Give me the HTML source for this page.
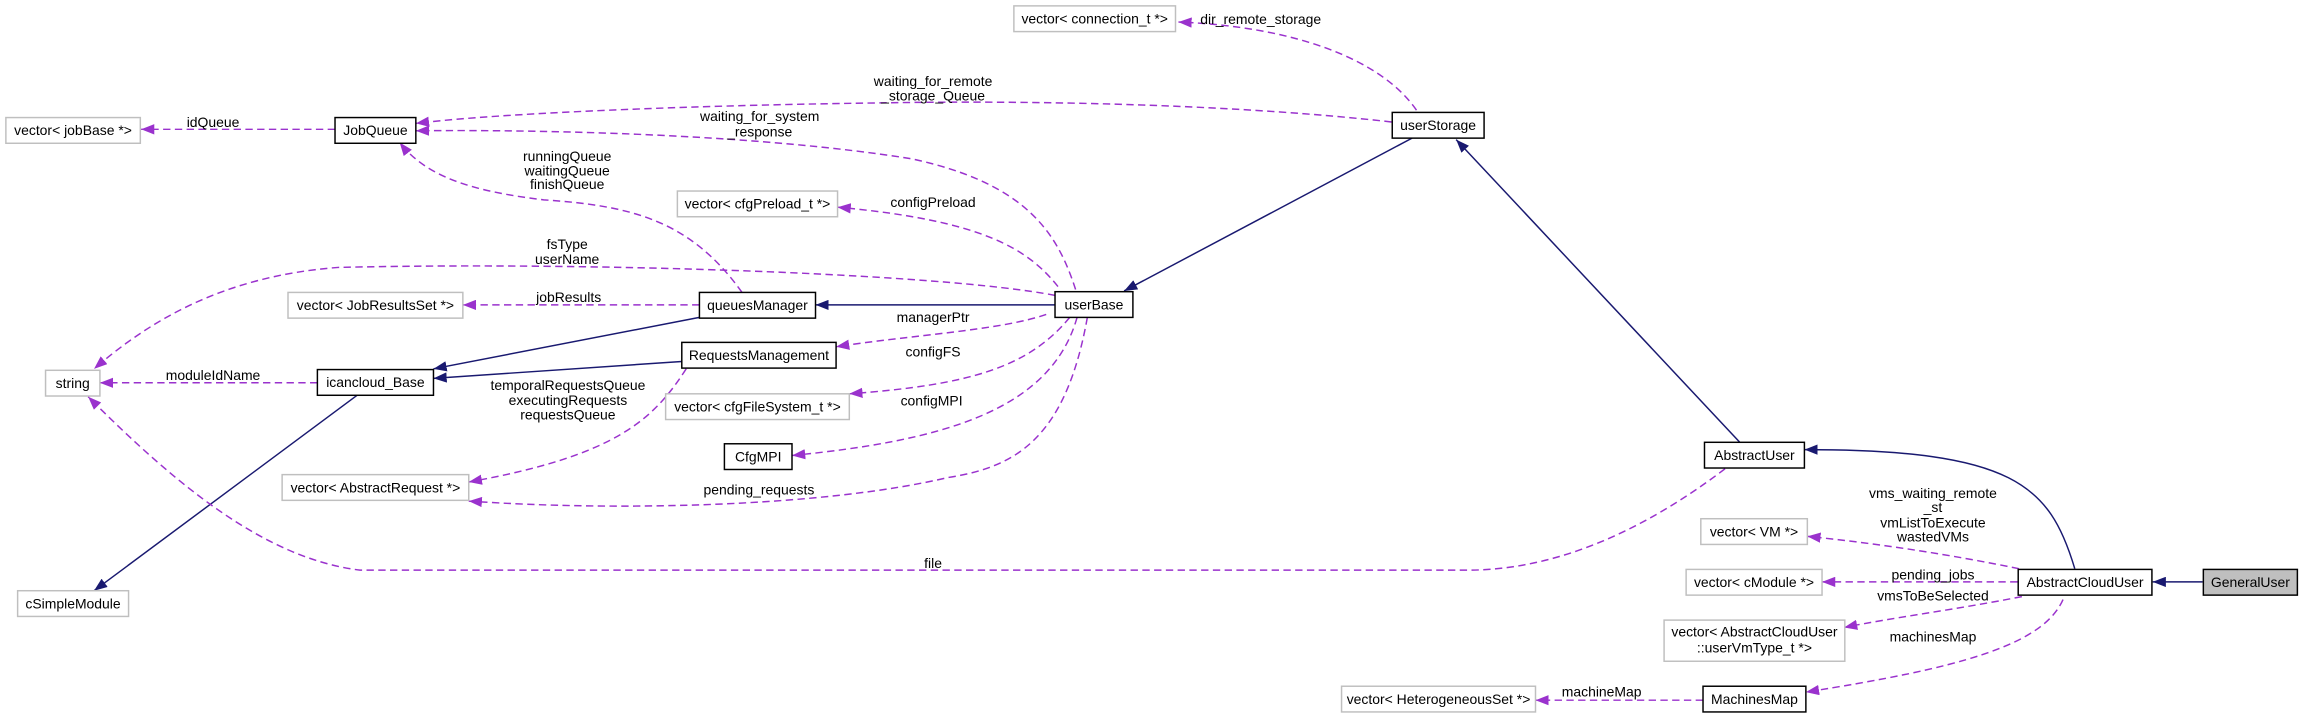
<!DOCTYPE html>
<html><head><meta charset="utf-8"><style>
html,body{margin:0;padding:0;background:#fff;}
svg{display:block;}
text{font-family:"Liberation Sans",sans-serif;font-size:9.5px;fill:#000;text-anchor:middle;}
.n{fill:#fff;stroke:#000;stroke-width:1;}
.g{fill:#fff;stroke:#bfbfbf;stroke-width:1;}
.b{fill:none;stroke:#191970;stroke-width:1;}
.p{fill:none;stroke:#9a32cd;stroke-width:1;stroke-dasharray:5,3;}
</style></head><body>
<svg width="2304" height="719" viewBox="0 0 1568 489.3" preserveAspectRatio="none" xmlns="http://www.w3.org/2000/svg">
<defs>
<marker id="ab" markerWidth="9" markerHeight="7" refX="9" refY="3.5" orient="auto" markerUnits="userSpaceOnUse"><path d="M0,0 L9,3.5 L0,7 z" fill="#191970"/></marker>
<marker id="ap" markerWidth="9" markerHeight="7" refX="9" refY="3.5" orient="auto" markerUnits="userSpaceOnUse"><path d="M0,0 L9,3.5 L0,7 z" fill="#9a32cd"/></marker>
</defs>

<!-- blue edges -->
<path class="b" d="M961,94 L765,198" marker-end="url(#ab)"/>
<path class="b" d="M1184,301 L991,95" marker-end="url(#ab)"/>
<path class="b" d="M1412,387 C1395,330 1370,306 1228,306" marker-end="url(#ab)"/>
<path class="b" d="M1499,396 L1465,396" marker-end="url(#ab)"/>
<path class="b" d="M718,207.5 L555,207.5" marker-end="url(#ab)"/>
<path class="b" d="M476,216 L295,251" marker-end="url(#ab)"/>
<path class="b" d="M464,246 L295,257.5" marker-end="url(#ab)"/>
<path class="b" d="M243,269 L64,402" marker-end="url(#ab)"/>

<!-- purple edges -->
<path class="p" d="M964,75 C940,40 880,18 802,15" marker-end="url(#ap)"/>
<path class="p" d="M947,83 C850,72 720,68 600,70 C450,72 330,78 283,84" marker-end="url(#ap)"/>
<path class="p" d="M732,197 C720,160 700,125 620,108 C520,92 380,88 283,89" marker-end="url(#ap)"/>
<path class="p" d="M505,199 C470,150 430,140 370,136 C320,130 290,120 272,97" marker-end="url(#ap)"/>
<path class="p" d="M228,88 L96,88" marker-end="url(#ap)"/>
<path class="p" d="M718,201 C640,186 400,178 230,182 C150,188 100,220 64,251" marker-end="url(#ap)"/>
<path class="p" d="M476,207.5 L315,207.5" marker-end="url(#ap)"/>
<path class="p" d="M720,195 C700,170 670,150 570,141" marker-end="url(#ap)"/>
<path class="p" d="M712,214 C680,225 620,228 569,236" marker-end="url(#ap)"/>
<path class="p" d="M728,216 C700,250 660,262 578,268" marker-end="url(#ap)"/>
<path class="p" d="M733,216 C715,280 640,300 539,310" marker-end="url(#ap)"/>
<path class="p" d="M740,216 C725,300 690,318 645,325 C560,345 420,348 319,341" marker-end="url(#ap)"/>
<path class="p" d="M467,251 C445,285 420,310 319,328" marker-end="url(#ap)"/>
<path class="p" d="M216,260.5 L68,260.5" marker-end="url(#ap)"/>
<path class="p" d="M1174,319 C1120,360 1060,388 999,388 L245,388 C180,380 120,330 60,270" marker-end="url(#ap)"/>
<path class="p" d="M1374,387 C1330,378 1280,370 1230,365" marker-end="url(#ap)"/>
<path class="p" d="M1373,396 L1240,396" marker-end="url(#ap)"/>
<path class="p" d="M1376,406 C1330,415 1290,420 1255,427" marker-end="url(#ap)"/>
<path class="p" d="M1404,408 C1390,440 1330,455 1229,471" marker-end="url(#ap)"/>
<path class="p" d="M1159,476.5 L1045,476.5" marker-end="url(#ap)"/>

<!-- edge labels -->
<text x="858" y="16.5">dir_remote_storage</text>
<text x="635" y="58.5">waiting_for_remote</text>
<text x="635" y="68.5">_storage_Queue</text>
<text x="517" y="82.5">waiting_for_system</text>
<text x="517" y="93">_response</text>
<text x="386" y="109.5">runningQueue</text>
<text x="386" y="119.5">waitingQueue</text>
<text x="386" y="128.5">finishQueue</text>
<text x="145" y="86.5">idQueue</text>
<text x="386" y="169.5">fsType</text>
<text x="386" y="179.5">userName</text>
<text x="387" y="205.5">jobResults</text>
<text x="635" y="141">configPreload</text>
<text x="635" y="219">managerPtr</text>
<text x="635" y="242.5">configFS</text>
<text x="634" y="276">configMPI</text>
<text x="516.5" y="336.5">pending_requests</text>
<text x="386.5" y="265.5">temporalRequestsQueue</text>
<text x="386.5" y="275.5">executingRequests</text>
<text x="386.5" y="285.5">requestsQueue</text>
<text x="145" y="258.5">moduleIdName</text>
<text x="635" y="386.5">file</text>
<text x="1315.5" y="339">vms_waiting_remote</text>
<text x="1315.5" y="348.5">_st</text>
<text x="1315.5" y="359">vmListToExecute</text>
<text x="1315.5" y="368.5">wastedVMs</text>
<text x="1315.5" y="394.5">pending_jobs</text>
<text x="1315.5" y="408.5">vmsToBeSelected</text>
<text x="1315.5" y="436.5">machinesMap</text>
<text x="1090" y="474">machineMap</text>

<!-- nodes -->
<rect class="g" x="690" y="4" width="110" height="17.5"/><text x="745" y="16">vector&lt; connection_t *&gt;</text>
<rect class="n" x="947.5" y="76.5" width="62.5" height="17.5"/><text x="978.7" y="88.5">userStorage</text>
<rect class="g" x="4" y="80" width="91.5" height="17.5"/><text x="49.7" y="92">vector&lt; jobBase *&gt;</text>
<rect class="n" x="228" y="80" width="55" height="17.5"/><text x="255.5" y="92">JobQueue</text>
<rect class="g" x="461" y="130" width="109" height="17.5"/><text x="515.5" y="142">vector&lt; cfgPreload_t *&gt;</text>
<rect class="g" x="196" y="199" width="119" height="17.5"/><text x="255.5" y="211">vector&lt; JobResultsSet *&gt;</text>
<rect class="n" x="476" y="199" width="79" height="17.5"/><text x="515.5" y="211">queuesManager</text>
<rect class="n" x="718" y="198.5" width="53" height="17.5"/><text x="744.5" y="210.5">userBase</text>
<rect class="n" x="464" y="233" width="105" height="17.5"/><text x="516.5" y="245">RequestsManagement</text>
<rect class="g" x="31" y="252" width="37" height="17.5"/><text x="49.5" y="264">string</text>
<rect class="n" x="216" y="251.5" width="79" height="17.5"/><text x="255.5" y="263.5">icancloud_Base</text>
<rect class="g" x="453" y="268" width="125" height="17.5"/><text x="515.5" y="280">vector&lt; cfgFileSystem_t *&gt;</text>
<rect class="n" x="493" y="302" width="46" height="17.5"/><text x="516" y="314">CfgMPI</text>
<rect class="g" x="192" y="323" width="127" height="17.5"/><text x="255.5" y="335">vector&lt; AbstractRequest *&gt;</text>
<rect class="g" x="12" y="402" width="75.5" height="17.5"/><text x="49.7" y="414">cSimpleModule</text>
<rect class="n" x="1160" y="301" width="68" height="17.5"/><text x="1194" y="313">AbstractUser</text>
<rect class="g" x="1157.5" y="353" width="72.5" height="17.5"/><text x="1193.7" y="365">vector&lt; VM *&gt;</text>
<rect class="g" x="1147.5" y="387.5" width="92.5" height="17.5"/><text x="1193.7" y="399.5">vector&lt; cModule *&gt;</text>
<rect class="n" x="1373.5" y="387.5" width="91" height="17.5"/><text x="1419" y="399.5">AbstractCloudUser</text>
<rect x="1499.5" y="387.5" width="64" height="17.5" fill="#bfbfbf" stroke="#000"/><text x="1531.5" y="399.5">GeneralUser</text>
<rect class="g" x="1132.5" y="422" width="123" height="28"/><text x="1194" y="433">vector&lt; AbstractCloudUser</text><text x="1194" y="444">::userVmType_t *&gt;</text>
<rect class="n" x="1159" y="467" width="70" height="17.5"/><text x="1194" y="479">MachinesMap</text>
<rect class="g" x="913" y="467" width="132" height="17.5"/><text x="979" y="479">vector&lt; HeterogeneousSet *&gt;</text>
</svg>
</body></html>
